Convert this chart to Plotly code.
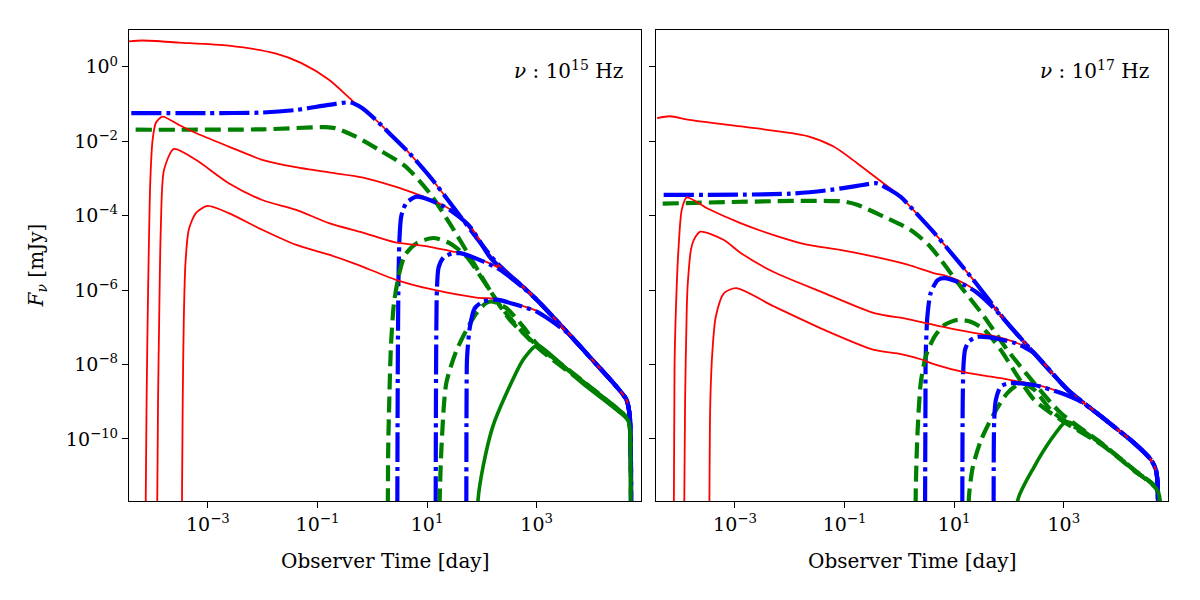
import plotly.graph_objects as go

# ======================= LEFT PANEL  (nu = 1e15 Hz) =======================
red_a_L_t = [3.6e-5, 6.3e-5, 2.95e-4, 2.4e-3, 1.7e-2, 5.1e-2, 0.162, 0.49, 1.15, 2.0, 4.68, 12.6, 44.7, 186, 562, 1000, 2951, 9333, 28840, 43650, 50120, 52480]
red_a_L_f = [4.8, 5.1, 4.5, 3.7, 2.3, 1.26, 0.45, 0.105, 0.038, 1.7e-2, 4.9e-3, 9.1e-4, 7.8e-5, 5.4e-6, 1.23e-6, 5.5e-7, 1.02e-7, 1.58e-8, 2.5e-9, 1.12e-9, 3.9e-10, 1e-13]

blue_a_L_t = [4.0e-5, 1e-3, 9.8e-3, 3.98e-2, 0.162, 0.398, 0.65, 1.15, 2.0, 4.68, 12.6, 44.7, 186, 562, 1000, 2951, 9333, 28840, 43650, 50120, 52480]
blue_a_L_f = [5.7e-2, 5.7e-2, 5.9e-2, 6.9e-2, 9.5e-2, 0.110, 7.8e-2, 3.8e-2, 1.7e-2, 4.9e-3, 9.1e-4, 7.8e-5, 5.4e-6, 1.23e-6, 5.5e-7, 1.02e-7, 1.58e-8, 2.5e-9, 1.12e-9, 3.9e-10, 1e-13]

green_a_L_t = [4.8e-5, 1e-2, 0.141, 0.214, 0.49, 1.32, 4.07, 11.2, 25.7, 60.3, 138, 324, 1000, 7079, 46770, 50120, 52480]
green_a_L_f = [2.04e-2, 2.09e-2, 2.4e-2, 2.24e-2, 1.35e-2, 5.9e-3, 2.09e-3, 4.0e-4, 6.3e-5, 7.9e-6, 1.02e-6, 1.58e-7, 3.3e-8, 3.4e-9, 3.4e-10, 2.0e-10, 1e-13]

red_b_L_t = [7.2e-5, 7.6e-5, 8.1e-5, 8.9e-5, 9.8e-5, 1.12e-4, 1.48e-4, 2.95e-4, 6.03e-4, 2.4e-3, 9.8e-3, 3.98e-2, 0.162, 0.65, 2.63, 6.46, 11.2, 25.7, 60.3, 138, 224, 562, 1000, 2951, 9333, 28840, 43650, 50120, 52480]
red_b_L_f = [1e-13, 1e-9, 1e-6, 9.1e-4, 1.1e-2, 3.1e-2, 4.6e-2, 2.75e-2, 1.66e-2, 7.2e-3, 3.16e-3, 2.0e-3, 1.45e-3, 1.07e-3, 6.0e-4, 3.8e-4, 2.8e-4, 1.51e-4, 5.4e-5, 8.3e-6, 4.0e-6, 1.23e-6, 5.5e-7, 1.02e-7, 1.58e-8, 2.5e-9, 1.12e-9, 3.9e-10, 1e-13]

blue_b_L_t = [2.85, 2.92, 3.02, 3.16, 3.39, 4.17, 6.46, 11.2, 25.7, 60.3, 138, 224, 562, 1000, 2951, 9333, 28840, 43650, 50120, 52480]
blue_b_L_f = [1e-13, 1e-8, 3.16e-6, 3.16e-5, 1e-4, 2.19e-4, 3.24e-4, 2.63e-4, 1.45e-4, 5.1e-5, 7.9e-6, 3.8e-6, 1.23e-6, 5.5e-7, 1.02e-7, 1.58e-8, 2.5e-9, 1.12e-9, 3.9e-10, 1e-13]

green_b_L_t = [1.91, 1.95, 2.04, 2.19, 2.51, 3.16, 3.98, 6.46, 12.9, 25.7, 52.5, 105, 245, 1000, 7079, 46770, 50120, 52480]
green_b_L_f = [1e-13, 5.0e-11, 1e-9, 3.16e-8, 5.0e-7, 3.16e-6, 8.9e-6, 1.82e-5, 2.51e-5, 1.82e-5, 7.9e-6, 1.86e-6, 2.95e-7, 3.0e-8, 3.16e-9, 3.2e-10, 2.0e-10, 1e-13]

red_c_L_t = [1.17e-4, 1.23e-4, 1.29e-4, 1.38e-4, 1.58e-4, 2.40e-4, 6.03e-4, 2.4e-3, 9.8e-3, 3.98e-2, 0.162, 0.65, 2.63, 10.7, 28.2, 39.8, 105, 214, 562, 1000, 2951, 9333, 28840, 43650, 50120, 52480]
red_c_L_f = [1e-13, 1e-9, 1.58e-7, 4.17e-5, 1.70e-3, 6.2e-3, 3.16e-3, 7.4e-4, 2.63e-4, 1.45e-4, 6.3e-5, 3.55e-5, 1.91e-5, 1.48e-5, 1.10e-5, 1.0e-5, 6.2e-6, 3.8e-6, 1.23e-6, 5.5e-7, 1.02e-7, 1.58e-8, 2.5e-9, 1.12e-9, 3.9e-10, 1e-13]

blue_c_L_t = [14.3, 14.6, 15.1, 16.2, 20.0, 28.2, 39.8, 105, 214, 562, 1000, 2951, 9333, 28840, 43650, 50120, 52480]
blue_c_L_f = [1e-13, 1e-8, 1e-6, 4.0e-6, 7.6e-6, 9.5e-6, 9.8e-6, 5.9e-6, 3.5e-6, 1.17e-6, 5.5e-7, 1.02e-7, 1.58e-8, 2.5e-9, 1.12e-9, 3.9e-10, 1e-13]

green_c_L_t = [16.2, 17.0, 18.2, 22.4, 34.7, 52.5, 79.4, 120, 158, 282, 562, 1000, 7079, 46770, 50120, 52480]
green_c_L_f = [1e-13, 2.5e-12, 5.0e-11, 3.16e-9, 2.45e-8, 8.5e-8, 2.4e-7, 4.5e-7, 4.9e-7, 3.24e-7, 1.05e-7, 3.6e-8, 3.5e-9, 3.4e-10, 2.0e-10, 1e-13]

red_d_L_t = [3.31e-4, 3.47e-4, 3.63e-4, 3.89e-4, 4.47e-4, 6.03e-4, 9.8e-4, 2.4e-3, 9.8e-3, 3.98e-2, 0.162, 0.50, 2.63, 11.2, 79.4, 186, 427, 1000, 1738, 3981, 9333, 28840, 43650, 50120, 52480]
red_d_L_f = [1e-13, 1e-9, 1.58e-7, 5.2e-6, 4.17e-5, 1.17e-4, 1.82e-4, 1.17e-4, 4.17e-5, 1.66e-5, 8.9e-6, 5.0e-6, 1.91e-6, 1.07e-6, 6.3e-7, 5.75e-7, 4.17e-7, 2.75e-7, 1.66e-7, 6.6e-8, 1.58e-8, 2.5e-9, 1.12e-9, 3.9e-10, 1e-13]

blue_d_L_t = [51.9, 52.5, 53.7, 60.3, 74.1, 105, 186, 427, 1000, 1738, 3981, 9333, 28840, 43650, 50120, 52480]
blue_d_L_f = [1e-13, 1e-9, 1.58e-8, 1e-7, 3.24e-7, 4.9e-7, 5.5e-7, 4.0e-7, 2.63e-7, 1.58e-7, 6.3e-8, 1.58e-8, 2.5e-9, 1.12e-9, 3.9e-10, 1e-13]

green_d_L_t = [83.2, 85.1, 105, 158, 282, 562, 912, 1120, 7079, 46770, 50120, 52480]
green_d_L_f = [1e-13, 2.3e-12, 1.78e-11, 2.14e-10, 1.7e-9, 1.32e-8, 3.0e-8, 3.16e-8, 3.0e-9, 3.16e-10, 2.0e-10, 1e-13]

# ======================= RIGHT PANEL  (nu = 1e17 Hz) =======================
red_a_R_t = [3.8e-5, 6.6e-5, 1.38e-4, 1.29e-3, 2.09e-2, 6.31e-2, 0.170, 0.51, 1.07, 1.58, 4.37, 7.41, 20.0, 30.9, 93.3, 288, 1175, 4786, 19050, 38900, 47860, 51290, 52480]
red_a_R_f = [4.2e-2, 4.7e-2, 3.8e-2, 2.5e-2, 1.38e-2, 7.2e-3, 2.57e-3, 7.4e-4, 3.24e-4, 1.74e-4, 3.4e-5, 1.35e-5, 2.3e-6, 1.02e-6, 1.29e-7, 2.0e-8, 2.1e-9, 4.0e-10, 7.8e-11, 2.75e-11, 1.48e-11, 6.5e-12, 1e-13]

blue_a_R_t = [5.0e-5, 1.02e-2, 5.5e-2, 0.170, 0.389, 0.68, 1.07, 1.58, 4.37, 7.41, 20.0, 30.9, 93.3, 288, 1175, 4786, 19050, 38900, 47860, 51290, 52480]
blue_a_R_f = [3.6e-4, 3.9e-4, 4.9e-4, 6.3e-4, 7.4e-4, 4.9e-4, 3.16e-4, 1.74e-4, 3.4e-5, 1.35e-5, 2.3e-6, 1.02e-6, 1.29e-7, 2.0e-8, 2.1e-9, 4.0e-10, 7.8e-11, 2.75e-11, 1.48e-11, 6.5e-12, 1e-13]

green_a_R_t = [4.8e-5, 9.5e-2, 0.170, 0.51, 1.58, 3.63, 13.2, 35.5, 93.3, 288, 891, 4786, 19050, 51290, 52480]
green_a_R_f = [2.1e-4, 2.4e-4, 1.95e-4, 9.5e-5, 4.17e-5, 1.48e-5, 1.23e-6, 1.9e-7, 2.45e-8, 3.16e-9, 4.9e-10, 7.8e-11, 1.48e-11, 4.3e-12, 1e-13]

red_b_R_t = [7.6e-5, 7.9e-5, 8.7e-5, 9.3e-5, 1.07e-4, 1.32e-4, 3.09e-4, 1.26e-3, 5.1e-3, 2.04e-2, 8.3e-2, 0.347, 1.41, 4.37, 6.61, 12.6, 25.1, 50.1, 93.3, 288, 1175, 4786, 19050, 38900, 47860, 51290, 52480]
red_b_R_f = [1e-13, 1e-8, 1.58e-6, 1.2e-5, 1.45e-4, 3.1e-4, 1.58e-4, 6.3e-5, 3.0e-5, 1.66e-5, 1.2e-5, 7.9e-6, 4.8e-6, 2.8e-6, 2.5e-6, 1.74e-6, 9.5e-7, 3.8e-7, 1.29e-7, 2.0e-8, 2.1e-9, 4.0e-10, 7.8e-11, 2.75e-11, 1.48e-11, 6.5e-12, 1e-13]

blue_b_R_t = [2.92, 2.99, 3.02, 3.24, 3.72, 5.01, 6.61, 12.6, 25.1, 50.1, 93.3, 288, 1175, 4786, 19050, 38900, 47860, 51290, 52480]
blue_b_R_f = [1e-13, 1e-9, 1.62e-8, 1.95e-7, 8.3e-7, 1.86e-6, 2.1e-6, 1.58e-6, 8.9e-7, 3.55e-7, 1.29e-7, 2.0e-8, 2.1e-9, 4.0e-10, 7.8e-11, 2.75e-11, 1.48e-11, 6.5e-12, 1e-13]

green_b_R_t = [1.95, 2.0, 2.14, 2.45, 3.02, 4.37, 6.61, 11.5, 20.0, 35.5, 70.8, 145, 288, 891, 4786, 19050, 51290, 52480]
green_b_R_f = [1e-13, 6.5e-12, 1.41e-10, 3.16e-9, 1.62e-8, 5.6e-8, 1.15e-7, 1.58e-7, 1.41e-7, 8.5e-8, 2.45e-8, 4.7e-9, 1.12e-9, 3.2e-10, 7.1e-11, 1.41e-11, 4.0e-12, 1e-13]

red_c_R_t = [1.17e-4, 1.23e-4, 1.32e-4, 1.38e-4, 1.58e-4, 1.78e-4, 2.34e-4, 6.17e-4, 1.29e-3, 5.2e-3, 4.27e-2, 0.347, 1.41, 5.75, 17.4, 35.5, 53.7, 126, 200, 288, 1175, 4786, 19050, 38900, 47860, 51290, 52480]
red_c_R_f = [1e-13, 1e-9, 3.16e-7, 1.55e-6, 1.26e-5, 2.24e-5, 3.7e-5, 2.24e-5, 9.8e-6, 3.0e-6, 8.3e-7, 2.4e-7, 1.66e-7, 1.05e-7, 7.6e-8, 6.3e-8, 5.75e-8, 4.0e-8, 2.95e-8, 2.0e-8, 2.1e-9, 4.0e-10, 7.8e-11, 2.75e-11, 1.48e-11, 6.5e-12, 1e-13]

blue_c_R_t = [14.0, 14.3, 14.8, 15.8, 18.6, 26.3, 39.8, 70.8, 126, 200, 288, 1175, 4786, 19050, 38900, 47860, 51290, 52480]
blue_c_R_f = [1e-13, 1e-9, 1e-8, 2.5e-8, 4.17e-8, 5.5e-8, 5.4e-8, 4.7e-8, 3.8e-8, 2.8e-8, 2.0e-8, 2.1e-9, 4.0e-10, 7.8e-11, 2.75e-11, 1.48e-11, 6.5e-12, 1e-13]

green_c_R_t = [18.2, 18.6, 21.9, 30.9, 53.7, 93.3, 166, 288, 575, 891, 4786, 19050, 51290, 52480]
green_c_R_f = [1e-13, 2.8e-12, 1.78e-11, 9.3e-11, 4.9e-10, 1.7e-9, 3.16e-9, 2.1e-9, 6.0e-10, 3.55e-10, 7.6e-11, 1.45e-11, 4.2e-12, 1e-13]

red_d_R_t = [3.39e-4, 3.55e-4, 3.89e-4, 4.47e-4, 6.31e-4, 1.05e-3, 5.2e-3, 4.27e-2, 0.347, 1.07, 2.45, 4.37, 17.4, 70.8, 145, 288, 891, 2042, 3548, 4786, 19050, 38900, 47860, 51290, 52480]
red_d_R_f = [1e-13, 1e-9, 2.45e-8, 1.95e-7, 8.3e-7, 1.12e-6, 3.6e-7, 8.5e-8, 2.45e-8, 1.9e-8, 1.38e-8, 1e-8, 5.9e-9, 4.3e-9, 3.5e-9, 2.95e-9, 1.78e-9, 1.05e-9, 5.75e-10, 4.0e-10, 7.8e-11, 2.75e-11, 1.48e-11, 6.5e-12, 1e-13]

blue_d_R_t = [52.5, 53.7, 57.5, 70.8, 107, 288, 891, 2042, 3548, 4786, 19050, 38900, 47860, 51290, 52480]
blue_d_R_f = [1e-13, 3.16e-10, 1.12e-9, 2.57e-9, 3.16e-9, 2.8e-9, 1.7e-9, 1e-9, 5.6e-10, 4.0e-10, 7.8e-11, 2.75e-11, 1.48e-11, 6.5e-12, 1e-13]

green_d_R_t = [141, 145, 288, 575, 1000, 1259, 4786, 19050, 51290, 52480]
green_d_R_f = [1e-13, 2.3e-12, 1.78e-11, 9.3e-11, 2.6e-10, 2.8e-10, 7.4e-11, 1.41e-11, 4.1e-12, 1e-13]

# tick positions / labels
x_tick_vals = [1e-3, 1e-1, 1e1, 1e3]
x_tick_text = ["10<sup>\u22123</sup>", "10<sup>\u22121</sup>", "10<sup>1</sup>", "10<sup>3</sup>"]
y_tick_vals = [1e0, 1e-2, 1e-4, 1e-6, 1e-8, 1e-10]
y_tick_text = ["10<sup>0</sup>", "10<sup>\u22122</sup>", "10<sup>\u22124</sup>", "10<sup>\u22126</sup>", "10<sup>\u22128</sup>", "10<sup>\u221210</sup>"]
panel_labels = ["<i>\u03bd</i> : 10<sup>15</sup> Hz", "<i>\u03bd</i> : 10<sup>17</sup> Hz"]

# ---------------- styles ----------------
FONT = "DejaVu Serif"
RED = dict(color="#ff0000", width=1.8, shape="spline", smoothing=0.7)
BLUE = dict(color="#0000ff", width=4.2, dash="30px,5px,4px,5px", shape="spline", smoothing=0.7)
GREEN_DASH = dict(color="#008000", width=4.2, dash="16px,7px", shape="spline", smoothing=0.7)
GREEN_SOLID = dict(color="#008000", width=3.6, shape="spline", smoothing=0.7)

fig = go.Figure()

def add(t, f, line, xa, ya):
    fig.add_trace(go.Scatter(x=t, y=f, mode="lines", line=line, xaxis=xa, yaxis=ya,
                             showlegend=False, hoverinfo="skip"))

left = [
    (red_a_L_t, red_a_L_f, RED), (blue_a_L_t, blue_a_L_f, BLUE), (green_a_L_t, green_a_L_f, GREEN_DASH),
    (red_b_L_t, red_b_L_f, RED), (blue_b_L_t, blue_b_L_f, BLUE), (green_b_L_t, green_b_L_f, GREEN_DASH),
    (red_c_L_t, red_c_L_f, RED), (blue_c_L_t, blue_c_L_f, BLUE), (green_c_L_t, green_c_L_f, GREEN_DASH),
    (red_d_L_t, red_d_L_f, RED), (blue_d_L_t, blue_d_L_f, BLUE), (green_d_L_t, green_d_L_f, GREEN_SOLID),
]
right = [
    (red_a_R_t, red_a_R_f, RED), (blue_a_R_t, blue_a_R_f, BLUE), (green_a_R_t, green_a_R_f, GREEN_DASH),
    (red_b_R_t, red_b_R_f, RED), (blue_b_R_t, blue_b_R_f, BLUE), (green_b_R_t, green_b_R_f, GREEN_DASH),
    (red_c_R_t, red_c_R_f, RED), (blue_c_R_t, blue_c_R_f, BLUE), (green_c_R_t, green_c_R_f, GREEN_DASH),
    (red_d_R_t, red_d_R_f, RED), (blue_d_R_t, blue_d_R_f, BLUE), (green_d_R_t, green_d_R_f, GREEN_SOLID),
]
for t, f, ln in left:
    add(t, f, ln, "x", "y")
for t, f, ln in right:
    add(t, f, ln, "x2", "y2")

axis_common = dict(type="log", showgrid=False, zeroline=False, showline=True, linecolor="black",
                   linewidth=1.3, mirror=True, ticks="outside", ticklen=6, tickwidth=1.2,
                   tickcolor="black", tickfont=dict(family=FONT, size=19, color="black"))

fig.update_layout(
    width=1200, height=600,
    margin=dict(l=0, r=0, t=0, b=0),
    paper_bgcolor="white", plot_bgcolor="white",
    showlegend=False,
    xaxis=dict(axis_common, domain=[0.1075, 0.534], anchor="y", range=[-4.44, 4.90],
               tickvals=x_tick_vals, ticktext=x_tick_text),
    yaxis=dict(axis_common, domain=[0.165, 0.95], anchor="x", range=[-11.67, 0.99],
               tickvals=y_tick_vals, ticktext=y_tick_text),
    xaxis2=dict(axis_common, domain=[0.5467, 0.9733], anchor="y2", range=[-4.44, 4.90],
                tickvals=x_tick_vals, ticktext=x_tick_text),
    yaxis2=dict(axis_common, domain=[0.165, 0.95], anchor="x2", range=[-11.67, 0.99],
                tickvals=y_tick_vals, ticktext=y_tick_text, showticklabels=False, matches="y"),
)

ann_font = dict(family=FONT, size=20, color="black")
fig.add_annotation(text=panel_labels[0], xref="paper", yref="paper", x=0.521, y=0.883,
                   xanchor="right", yanchor="middle", showarrow=False, font=ann_font)
fig.add_annotation(text=panel_labels[1], xref="paper", yref="paper", x=0.959, y=0.883,
                   xanchor="right", yanchor="middle", showarrow=False, font=ann_font)
fig.add_annotation(text="Observer Time [day]", xref="paper", yref="paper", x=0.321, y=0.065,
                   xanchor="center", yanchor="middle", showarrow=False, font=ann_font)
fig.add_annotation(text="Observer Time [day]", xref="paper", yref="paper", x=0.760, y=0.065,
                   xanchor="center", yanchor="middle", showarrow=False, font=ann_font)
fig.add_annotation(text="<i>F<sub>\u03bd</sub></i> [mJy]", xref="paper", yref="paper", x=0.031, y=0.558,
                   xanchor="center", yanchor="middle", textangle=-90, showarrow=False, font=ann_font)

fig.write_html("out.html")
